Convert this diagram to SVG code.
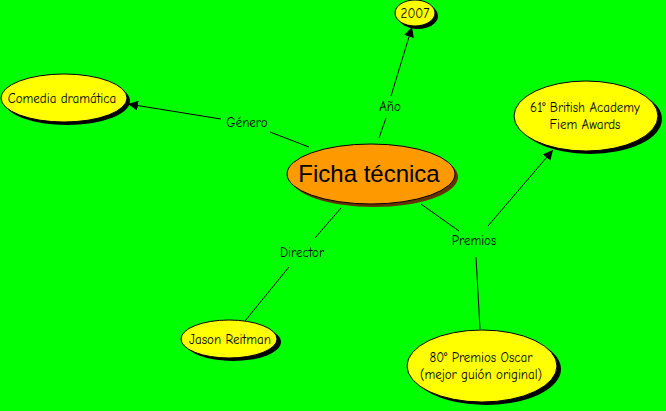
<svg xmlns="http://www.w3.org/2000/svg" width="666" height="411" viewBox="0 0 666 411">
<defs>
<style>
.bg{fill:#00ff00}
.sh{fill:#000}
.shc{fill:#663300}
.n{fill:#ffff00;stroke:#000;stroke-width:1}
.c{fill:#ff9900;stroke:#000;stroke-width:1}
.t{font-family:"Comic Neue","Liberation Sans",sans-serif;font-size:13px;fill:#000;text-anchor:middle}
.tc{font-family:"Liberation Sans",sans-serif;font-size:24px;fill:#000;text-anchor:middle}
.l{stroke:#000;stroke-width:1;fill:none}
</style>
<marker id="a" viewBox="0 0 10 10" refX="10" refY="5" markerWidth="10" markerHeight="10" markerUnits="userSpaceOnUse" orient="auto">
<path d="M0,0L10,5L0,10z" fill="#000"/>
</marker>
</defs>
<rect class="bg" width="666" height="411"/>
<g id="connectors">
<line class="l" x1="309" y1="147" x2="270" y2="132"/>
<line class="l" x1="221" y1="119" x2="128" y2="104" marker-end="url(#a)"/>
<line class="l" x1="379" y1="138" x2="386" y2="118"/>
<line class="l" x1="391" y1="96" x2="412" y2="27" marker-end="url(#a)"/>
<line class="l" x1="341" y1="208" x2="315" y2="238"/>
<line class="l" x1="289" y1="267" x2="245" y2="321"/>
<line class="l" x1="421" y1="204" x2="459" y2="231"/>
<line class="l" x1="488" y1="226" x2="553" y2="150" marker-end="url(#a)"/>
<line class="l" x1="476" y1="257" x2="480" y2="329"/>
<text class="t" x="247" y="127">Género</text>
<text class="t" x="390" y="111">Año</text>
<text class="t" x="302" y="257">Director</text>
<text class="t" x="474" y="245">Premios</text>
</g>
<g id="ficha">
<ellipse class="shc" cx="374" cy="177" rx="84" ry="30"/>
<ellipse class="c" cx="371" cy="174" rx="84" ry="30"/>
<text class="tc" x="369" y="182">Ficha técnica</text>
</g>
<g id="comedia">
<ellipse class="sh" cx="67" cy="101" rx="63" ry="24"/>
<ellipse class="n" cx="64" cy="98" rx="63" ry="24"/>
<text class="t" x="62" y="103">Comedia dramática</text>
</g>
<g id="y2007">
<ellipse class="sh" cx="418" cy="16" rx="20" ry="13"/>
<ellipse class="n" cx="415" cy="13" rx="20" ry="13"/>
<text class="t" x="415" y="18">2007</text>
</g>
<g id="bafta">
<ellipse class="sh" cx="590" cy="119" rx="72" ry="35"/>
<ellipse class="n" cx="586" cy="116" rx="72" ry="35"/>
<text class="t" x="585" y="112">61° British Academy</text>
<text class="t" x="585" y="129">Fiem Awards</text>
</g>
<g id="oscar">
<ellipse class="sh" cx="486" cy="369" rx="75" ry="36"/>
<ellipse class="n" cx="482" cy="366" rx="75" ry="36"/>
<text class="t" x="481" y="362">80° Premios Oscar</text>
<text class="t" x="481" y="379">(mejor guión original)</text>
</g>
<g id="jason">
<ellipse class="sh" cx="233" cy="342" rx="48" ry="19"/>
<ellipse class="n" cx="229" cy="339" rx="48" ry="19"/>
<text class="t" x="230" y="344">Jason Reitman</text>
</g>
</svg>
